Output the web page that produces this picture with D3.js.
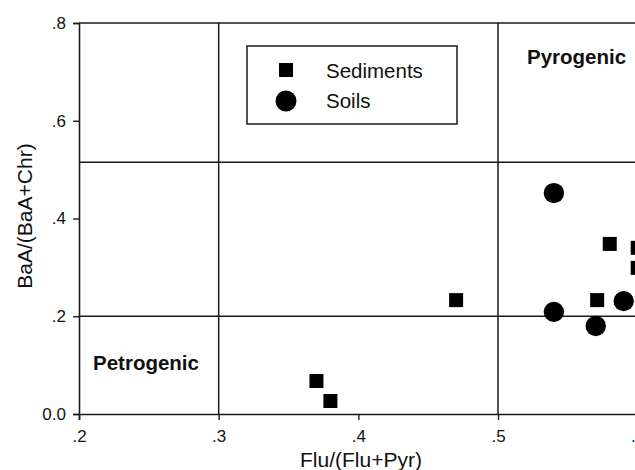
<!DOCTYPE html>
<html><head><meta charset="utf-8">
<script src="https://cdn.jsdelivr.net/npm/d3@7"></script>
<style>
html,body{margin:0;padding:0;background:#fff;}
svg{display:block;overflow:hidden;}
text{font-family:"Liberation Sans",Arial,Helvetica,sans-serif;fill:#111;}
</style></head>
<body><svg id="chart" width="635" height="470"></svg>
<script>
// Data
const sedimentsX = [0.370, 0.380, 0.470, 0.571, 0.580, 0.600, 0.600];
const sedimentsY = [0.0675, 0.0266, 0.233, 0.233, 0.348, 0.340, 0.299];
const soilsX = [0.540, 0.540, 0.570, 0.590];
const soilsY = [0.452, 0.209, 0.180, 0.231];
const xTicks = [0.2, 0.3, 0.4, 0.5, 0.6, 0.7];
const yTicks = [0.0, 0.2, 0.4, 0.6, 0.8];
const hLines = [0.2, 0.515];
const vLines = [0.3, 0.5];
const seriesNames = ["Sediments", "Soils"];
const regionLabels = ["Pyrogenic", "Petrogenic"];
const xTitle = "Flu/(Flu+Pyr)";
const yTitle = "BaA/(BaA+Chr)";

const svg = d3.select("#chart");
const mLeft = 79, mTop = 23, mBottom = 414;
const x = d3.scaleLinear().domain([0.2, 0.7]).range([mLeft, mLeft + 0.5 * 1396.7]);
const y = d3.scaleLinear().domain([0, 0.8]).range([mBottom, mTop]);
const ink = "#1a1a1a";

const fmt = d => d === 0 ? "0.0" : d3.format(".1f")(d).replace(/^0/, "");

// axes
const xAxis = svg.append("g").attr("transform", `translate(0,${mBottom})`)
  .call(d3.axisBottom(x).tickValues(xTicks).tickFormat(fmt).tickSizeOuter(0).tickSize(6).tickPadding(6));
const yAxis = svg.append("g").attr("transform", `translate(${mLeft},0)`)
  .call(d3.axisLeft(y).tickValues(yTicks).tickFormat(fmt).tickSizeOuter(0).tickSize(6).tickPadding(7));
[xAxis, yAxis].forEach(a => {
  a.selectAll("path.domain").attr("stroke", ink).attr("stroke-width", 1.6);
  a.selectAll(".tick line").attr("stroke", ink).attr("stroke-width", 1.4);
  a.selectAll(".tick text").attr("font-size", 17).attr("fill", "#111")
    .attr("font-family", '"Liberation Sans",Arial,sans-serif');
});
xAxis.selectAll(".tick text").attr("dy", "0.95em");

// top frame
svg.append("line").attr("x1", x(0.2)).attr("x2", x(0.7)).attr("y1", y(0.8)).attr("y2", y(0.8))
  .attr("stroke", ink).attr("stroke-width", 1.6);

// reference lines
svg.selectAll("line.h").data(hLines).enter().append("line")
  .attr("x1", x(0.2)).attr("x2", x(0.7)).attr("y1", d => y(d)).attr("y2", d => y(d))
  .attr("stroke", ink).attr("stroke-width", 1.5);
svg.selectAll("line.v").data(vLines).enter().append("line")
  .attr("x1", d => x(d)).attr("x2", d => x(d)).attr("y1", y(0)).attr("y2", y(0.8))
  .attr("stroke", ink).attr("stroke-width", 1.5);

// axis titles
svg.append("text").attr("x", 361).attr("y", 467).attr("text-anchor", "middle")
  .attr("font-size", 21).text(xTitle);
svg.append("text").attr("transform", `translate(32,216) rotate(-90)`).attr("text-anchor", "middle")
  .attr("font-size", 21).text(yTitle);

// region labels
svg.append("text").attr("x", 527).attr("y", 64).attr("font-size", 20.5).attr("font-weight", "bold").text(regionLabels[0]);
svg.append("text").attr("x", 93).attr("y", 370).attr("font-size", 20.5).attr("font-weight", "bold").text(regionLabels[1]);

// points
const sed = sedimentsX.map((v, i) => [v, sedimentsY[i]]);
const soil = soilsX.map((v, i) => [v, soilsY[i]]);
const sq = 14, r = 10.2;
svg.selectAll("rect.sed").data(sed).enter().append("rect")
  .attr("x", d => x(d[0]) - sq / 2).attr("y", d => y(d[1]) - sq / 2)
  .attr("width", sq).attr("height", sq).attr("fill", "#000");
svg.selectAll("circle.soil").data(soil).enter().append("circle")
  .attr("cx", d => x(d[0])).attr("cy", d => y(d[1])).attr("r", r).attr("fill", "#000");

// legend
const lg = svg.append("g");
lg.append("rect").attr("x", 247).attr("y", 46).attr("width", 210).attr("height", 78)
  .attr("fill", "#fff").attr("stroke", ink).attr("stroke-width", 1.5);
lg.append("rect").attr("x", 286 - sq / 2).attr("y", 70 - sq / 2).attr("width", sq).attr("height", sq).attr("fill", "#000");
lg.append("circle").attr("cx", 286).attr("cy", 101).attr("r", 10.5).attr("fill", "#000");
lg.append("text").attr("x", 326).attr("y", 77.5).attr("font-size", 20.5).text(seriesNames[0]);
lg.append("text").attr("x", 326).attr("y", 108).attr("font-size", 20.5).text(seriesNames[1]);
</script></body></html>
